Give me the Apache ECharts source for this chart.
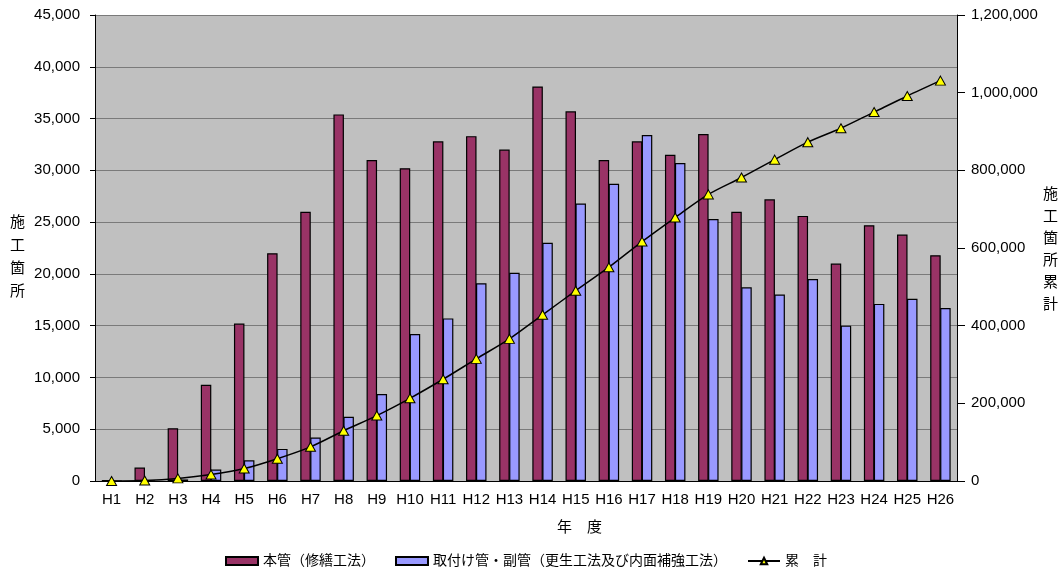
<!DOCTYPE html>
<html>
<head>
<meta charset="utf-8">
<script src="https://cdn.jsdelivr.net/npm/echarts@6/dist/echarts.min.js"></script>
<style>
html,body{margin:0;padding:0;background:#fff;}
#c{width:1064px;height:571px;}
</style>
</head>
<body>
<div id="c"></div>
<script>
const categories = ['H1','H2','H3','H4','H5','H6','H7','H8','H9','H10','H11','H12','H13','H14','H15','H16','H17','H18','H19','H20','H21','H22','H23','H24','H25','H26'];
const mainPipe = [100,1300,5100,9300,15200,22000,26000,35400,31000,30200,32800,33300,32000,38100,35700,31000,32800,31500,33500,26000,27200,25600,21000,24700,23800,21800];
const branchPipe = [0,0,150,1100,2000,3100,4200,6200,8400,14200,15700,19100,20100,23000,26800,28700,33400,30700,25300,18700,18000,19500,15000,17100,17600,16700];
const cumulative = [100,1400,6700,16500,32000,57500,88000,129500,168500,213000,262000,314500,366000,428000,490000,550500,616500,678500,738000,781500,827500,872500,908500,950000,991500,1031000];
const seriesNames = ['本管（修繕工法）','取付け管・副管（更生工法及び内面補強工法）','累　計'];
const leftAxisName = '施工箇所';
const rightAxisName = '施工箇所累計';
const xAxisName = '年　度';

const FF = "'Liberation Sans', 'Noto Sans CJK JP', sans-serif";
const fmt = v => v.toLocaleString('en-US');

const chart = echarts.init(document.getElementById('c'));
chart.setOption({
  animation: false,
  textStyle: {fontFamily: FF},
  grid: {left: 95, right: 107, top: 15, bottom: 90, show: true, backgroundColor: '#C0C0C0', borderWidth: 0},
  title: {text: xAxisName, left: 557, top: 520, textStyle: {fontFamily: FF, fontSize: 15, fontWeight: 'normal', color: '#000'}, padding: 0},
  legend: {
    left: 220, top: 549, itemWidth: 32, itemHeight: 8, itemGap: 20,
    textStyle: {fontFamily: FF, fontSize: 14, color: '#000'},
    data: [
      {name: seriesNames[0], icon: 'rect'},
      {name: seriesNames[1], icon: 'rect'},
      {name: seriesNames[2]}
    ]
  },
  xAxis: {
    type: 'category', data: categories,
    axisLine: {lineStyle: {color: '#000', width: 1}},
    axisTick: {length: 5, lineStyle: {color: '#000'}},
    axisLabel: {color: '#000', fontSize: 15, margin: 11, interval: 0}
  },
  yAxis: [
    {
      type: 'value', min: 0, max: 45000, interval: 5000,
      axisLine: {show: true, lineStyle: {color: '#000'}},
      axisTick: {show: true, length: 5, lineStyle: {color: '#000'}},
      axisLabel: {color: '#000', fontSize: 15, margin: 15, formatter: fmt},
      splitLine: {show: true, lineStyle: {color: '#7a7a7a', width: 1}}
    },
    {
      type: 'value', min: 0, max: 1200000, interval: 200000, position: 'right',
      axisLine: {show: true, lineStyle: {color: '#000'}},
      axisTick: {show: true, length: 8, lineStyle: {color: '#000'}},
      axisLabel: {color: '#000', fontSize: 15, margin: 14, formatter: fmt},
      splitLine: {show: false}
    }
  ],
  graphic: [
    {type: 'text', left: 10, top: 210, style: {text: leftAxisName.split('').join('\n'), font: "15px 'Noto Sans CJK JP'", lineHeight: 23, fill: '#000'}},
    {type: 'text', left: 1043, top: 182, style: {text: rightAxisName.split('').join('\n'), font: "15px 'Noto Sans CJK JP'", lineHeight: 22, fill: '#000'}}
  ],
  series: [
    {name: seriesNames[0], type: 'bar', data: mainPipe, barWidth: 10.5, barGap: '-5%',
     itemStyle: {color: '#993366', borderColor: '#000', borderWidth: 1.2}},
    {name: seriesNames[1], type: 'bar', data: branchPipe, barWidth: 10.5, barGap: '-5%',
     itemStyle: {color: '#9999FF', borderColor: '#000', borderWidth: 1.2}},
    {name: seriesNames[2], type: 'line', yAxisIndex: 1, data: cumulative, smooth: 0.3,
     symbol: 'triangle', symbolSize: [10, 9],
     lineStyle: {color: '#000', width: 1.5},
     itemStyle: {color: '#FFFF00', borderColor: '#000', borderWidth: 1}, z: 5}
  ]
});
</script>
</body>
</html>
